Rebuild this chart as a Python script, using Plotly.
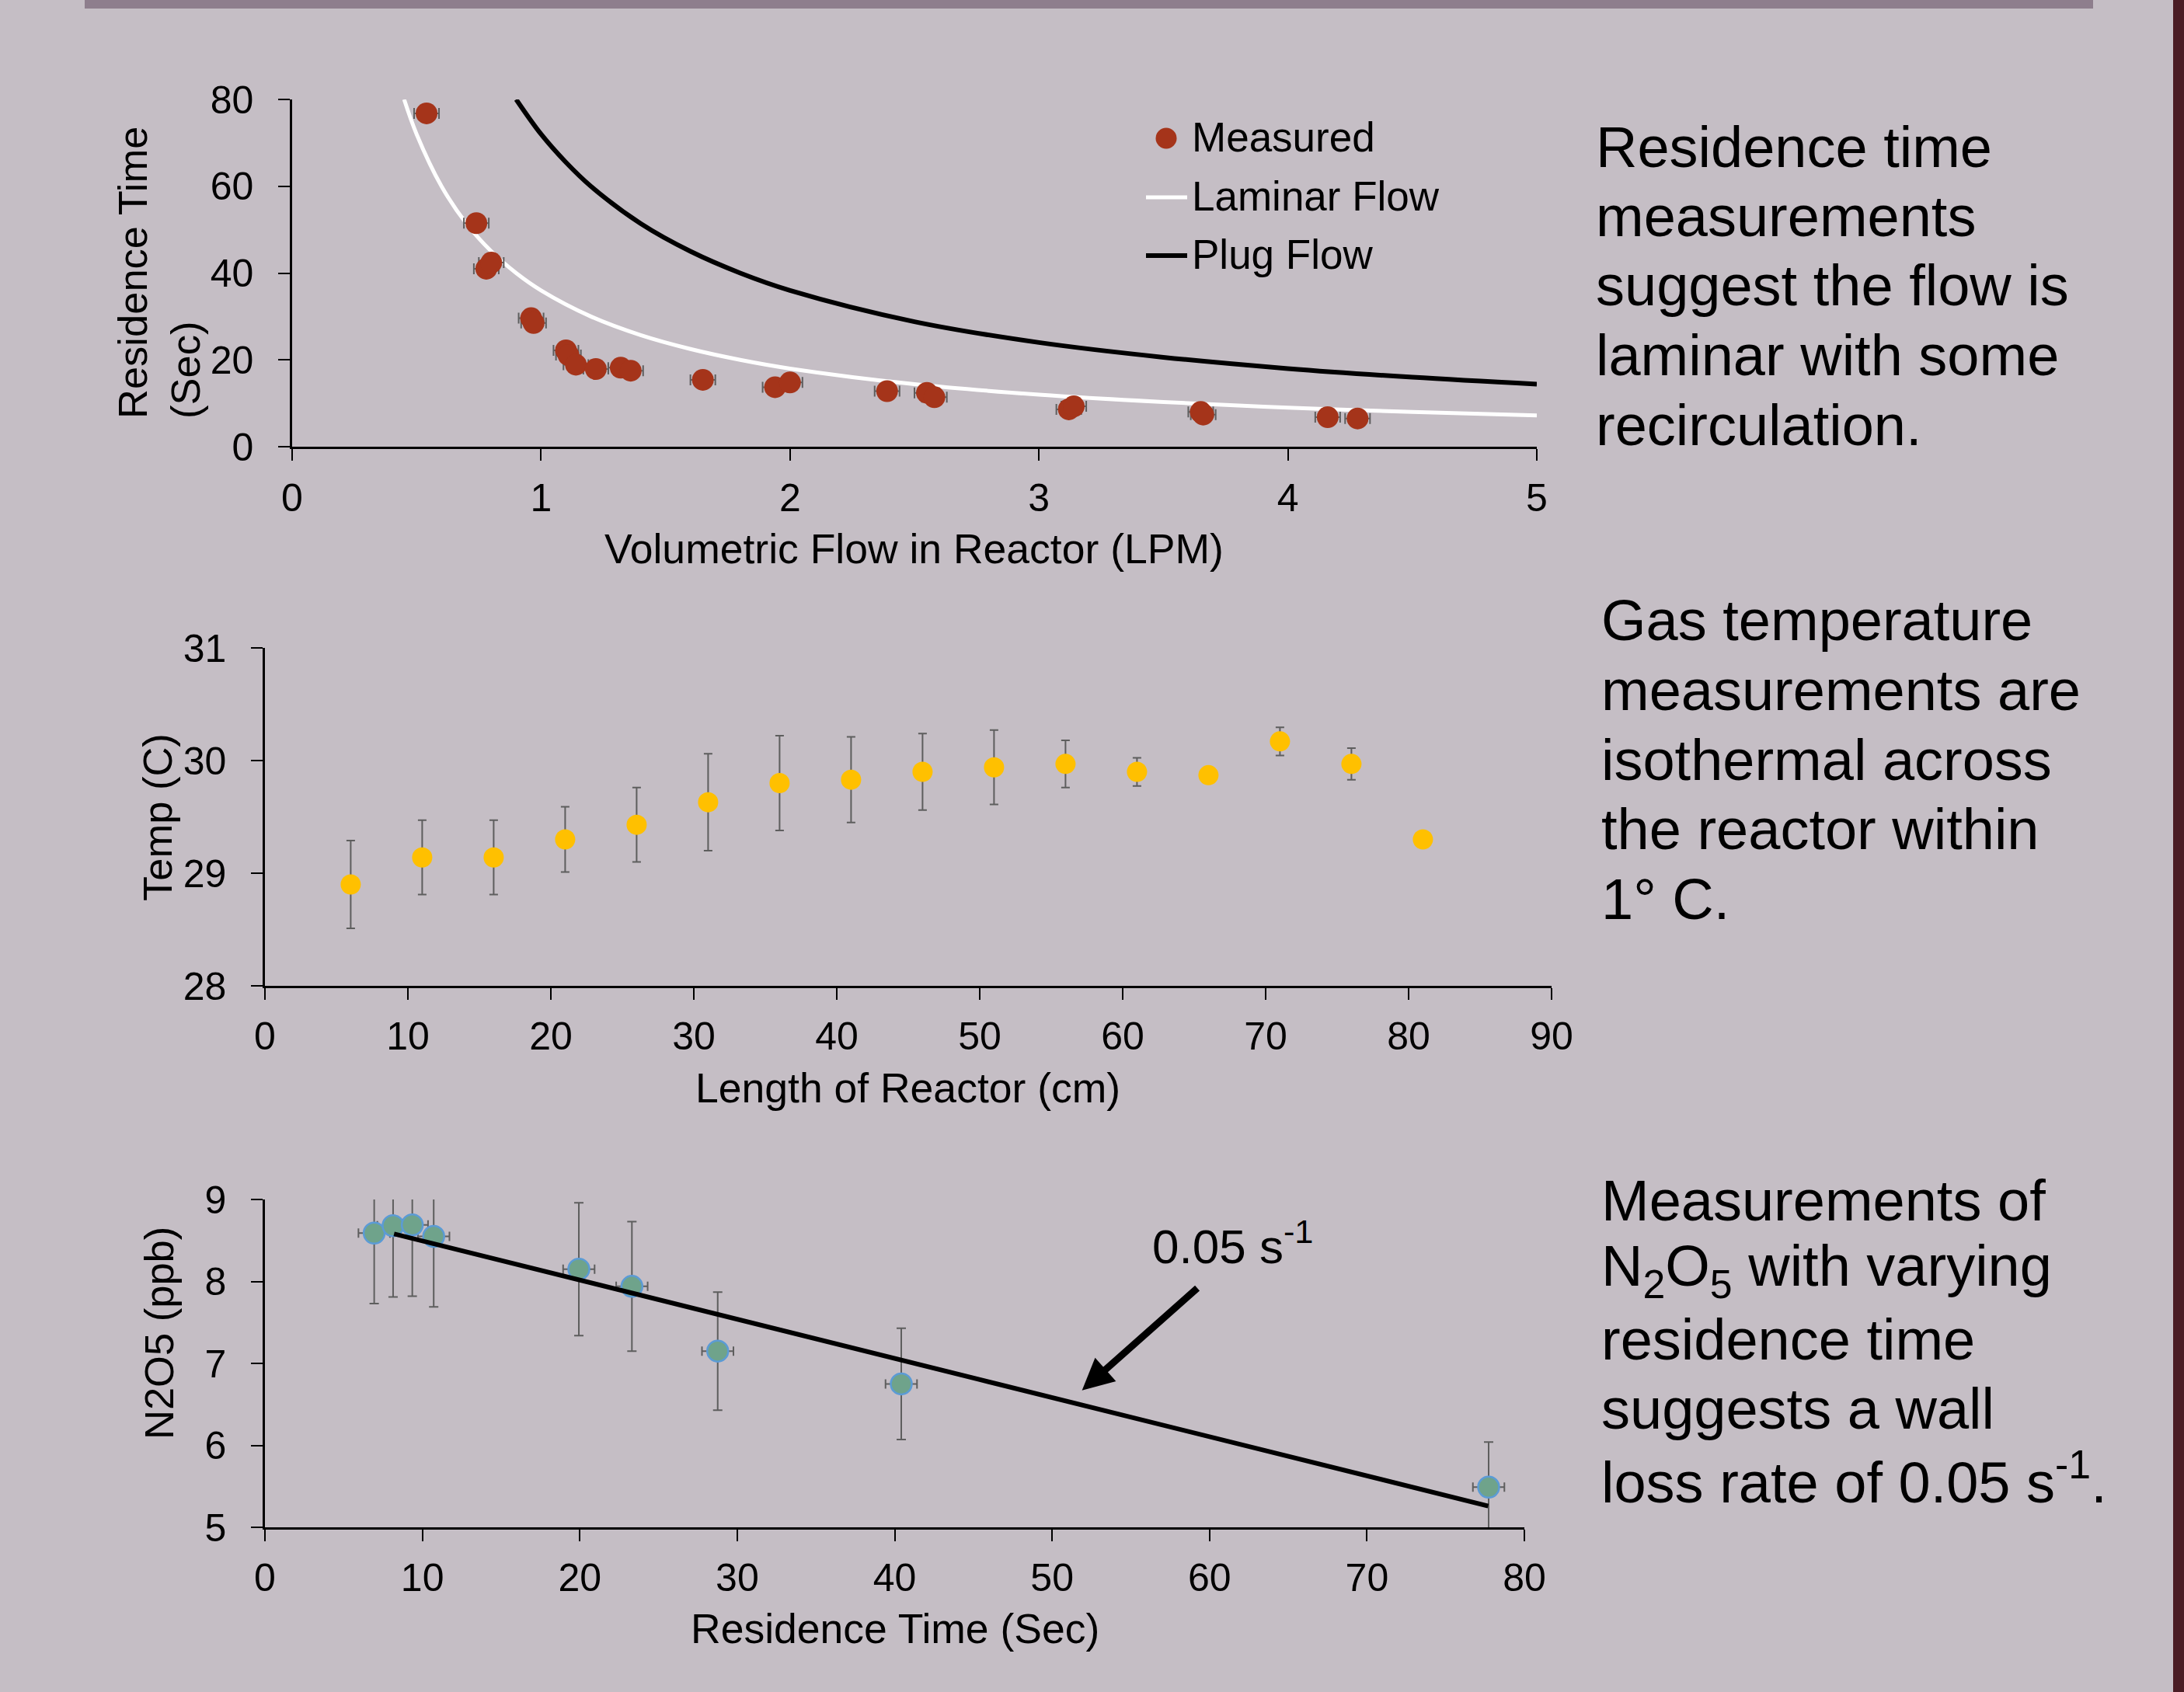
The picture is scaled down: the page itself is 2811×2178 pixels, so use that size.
import plotly.graph_objects as go

# ---------------- data ----------------
# Panel 1: residence time vs volumetric flow
flow_lpm = [0.54, 0.74, 0.78, 0.80, 0.96, 0.97, 1.10, 1.11, 1.14, 1.22, 1.32, 1.36,
            1.65, 1.94, 2.00, 2.39, 2.55, 2.58, 3.12, 3.14, 3.65, 3.66, 4.16, 4.28]
res_time_meas = [76.8, 51.5, 41.0, 42.4, 29.6, 28.5, 22.2, 21.1, 18.9, 17.9, 18.2, 17.5,
                 15.4, 13.7, 14.8, 12.8, 12.4, 11.4, 8.6, 9.3, 8.0, 7.4, 6.8, 6.5]
flow_err = [0.05, 0.05, 0.05, 0.05, 0.05, 0.05, 0.05, 0.05, 0.05, 0.05, 0.05, 0.05,
            0.05, 0.05, 0.05, 0.05, 0.05, 0.05, 0.05, 0.05, 0.05, 0.05, 0.05, 0.05]
laminar_x = [0.45, 0.5, 0.6, 0.7, 0.8, 0.9, 1.0, 1.2, 1.4, 1.6, 1.8, 2.0, 2.5, 3.0, 3.5, 4.0, 4.5, 5.0]
laminar_y = [80.0, 72.0, 60.0, 51.4, 45.0, 40.0, 36.0, 30.0, 25.7, 22.5, 20.0, 18.0, 14.4, 12.0, 10.3, 9.0, 8.0, 7.2]
plug_x = [0.9, 1.0, 1.1, 1.2, 1.4, 1.6, 1.8, 2.0, 2.5, 3.0, 3.5, 4.0, 4.5, 5.0]
plug_y = [80.0, 72.0, 65.5, 60.0, 51.4, 45.0, 40.0, 36.0, 28.8, 24.0, 20.6, 18.0, 16.0, 14.4]

# Panel 2: gas temperature along reactor
length_cm = [6, 11, 16, 21, 26, 31, 36, 41, 46, 51, 56, 61, 66, 71, 76, 81]
temp_c = [28.90, 29.14, 29.14, 29.30, 29.43, 29.63, 29.80, 29.83, 29.90, 29.94, 29.97,
          29.90, 29.87, 30.17, 29.97, 29.30]
temp_err = [0.39, 0.33, 0.33, 0.29, 0.33, 0.43, 0.42, 0.38, 0.34, 0.33, 0.21,
            0.125, 0.0, 0.125, 0.14, 0.0]

# Panel 3: N2O5 vs residence time
res_sec = [6.94, 8.14, 9.36, 10.72, 19.94, 23.31, 28.76, 40.42, 77.73]
res_sec_err = [1.0, 1.0, 1.0, 1.0, 1.0, 1.0, 1.0, 1.0, 1.0]
n2o5_ppb = [8.59, 8.68, 8.69, 8.55, 8.15, 7.94, 7.15, 6.75, 5.49]
n2o5_err = [0.86, 0.87, 0.87, 0.86, 0.81, 0.79, 0.72, 0.68, 0.55]
fit_x = [8.2, 77.7]
fit_y = [8.58, 5.26]
arrow_tail = (59.3, 7.93)
arrow_tip = (51.9, 6.67)
rate_label = "0.05 s<sup>-1</sup>"
rate_label_pos = (61.5, 8.47)

# ---------------- layout helpers ----------------
W, H = 2811, 2178
BG = "#C5BEC5"
FONT = "Liberation Sans, Arial, sans-serif"
ERR = "#5E5E5E"


def fx(p):
    return p / W


def fy(p):
    return 1 - p / H


fig = go.Figure()

# Panel 1 traces
fig.add_trace(go.Scatter(x=laminar_x, y=laminar_y, mode="lines", line=dict(color="white", width=5, shape="spline"),
                         xaxis="x", yaxis="y", showlegend=False, name="Laminar Flow"))
fig.add_trace(go.Scatter(x=plug_x, y=plug_y, mode="lines", line=dict(color="black", width=6, shape="spline"),
                         xaxis="x", yaxis="y", showlegend=False, name="Plug Flow"))
fig.add_trace(go.Scatter(x=flow_lpm, y=res_time_meas, mode="markers",
                         marker=dict(color="#A5341A", size=28),
                         error_x=dict(type="data", array=flow_err, color=ERR, thickness=2, width=7),
                         xaxis="x", yaxis="y", showlegend=False, name="Measured"))

# Panel 2
fig.add_trace(go.Scatter(x=length_cm, y=temp_c, mode="markers",
                         marker=dict(color="#FFC000", size=26),
                         error_y=dict(type="data", array=temp_err, color=ERR, thickness=2, width=5.5),
                         xaxis="x2", yaxis="y2", showlegend=False))

# Panel 3
fig.add_trace(go.Scatter(x=res_sec, y=n2o5_ppb, mode="markers",
                         marker=dict(color="#6FA38B", size=27, line=dict(color="#5B9BD5", width=2.5)),
                         error_y=dict(type="data", array=n2o5_err, color=ERR, thickness=2, width=6),
                         error_x=dict(type="data", array=res_sec_err, color=ERR, thickness=2, width=6),
                         xaxis="x3", yaxis="y3", showlegend=False))
fig.add_trace(go.Scatter(x=fit_x, y=fit_y, mode="lines", line=dict(color="black", width=6),
                         xaxis="x3", yaxis="y3", showlegend=False))

tickfont = dict(family=FONT, size=50, color="black")
axcommon = dict(showline=True, linecolor="black", linewidth=2.5, ticks="outside", ticklen=15,
                tickwidth=2, tickcolor="black", showgrid=False, zeroline=False, tickfont=tickfont,
                automargin=False, fixedrange=True)

fig.update_layout(
    width=W, height=H, template="none",
    margin=dict(l=0, r=0, t=0, b=0, pad=0),
    paper_bgcolor=BG, plot_bgcolor=BG,
    showlegend=False,
    xaxis=dict(domain=[fx(376), fx(1978)], range=[0, 5], dtick=1, anchor="y", ticklabelstandoff=5, **axcommon),
    yaxis=dict(domain=[fy(575), fy(128)], range=[0, 80], dtick=20, anchor="x", ticklabelstandoff=22, **axcommon),
    xaxis2=dict(domain=[fx(341), fx(1997)], range=[0, 90], dtick=10, anchor="y2", ticklabelstandoff=4, **axcommon),
    yaxis2=dict(domain=[fy(1269), fy(834)], range=[28, 31], dtick=1, anchor="x2", ticklabelstandoff=22, **axcommon),
    xaxis3=dict(domain=[fx(341), fx(1962)], range=[0, 80], dtick=10, anchor="y3", ticklabelstandoff=4, **axcommon),
    yaxis3=dict(domain=[fy(1966), fy(1544)], range=[5, 9], dtick=1, anchor="x3", ticklabelstandoff=22, **axcommon),
)

shapes = [
    # decorative top bar and right edge strip
    dict(type="rect", xref="paper", yref="paper", x0=fx(109), x1=fx(2694), y0=fy(11), y1=1,
         fillcolor="#8E7E8D", line=dict(width=0), layer="below"),
    dict(type="rect", xref="paper", yref="paper", x0=fx(2797), x1=1, y0=0, y1=1,
         fillcolor="#4A1C24", line=dict(width=0), layer="below"),
    # legend keys (panel 1)
    dict(type="circle", xref="paper", yref="paper", x0=fx(1487.5), x1=fx(1514.5), y0=fy(191.5), y1=fy(164.5),
         fillcolor="#A5341A", line=dict(width=0)),
    dict(type="line", xref="paper", yref="paper", x0=fx(1475), x1=fx(1528), y0=fy(254), y1=fy(254),
         line=dict(color="white", width=5)),
    dict(type="line", xref="paper", yref="paper", x0=fx(1475), x1=fx(1528), y0=fy(329), y1=fy(329),
         line=dict(color="black", width=6)),
]

titlefont = dict(family=FONT, size=53.5, color="black")
ytitlefont = dict(family=FONT, size=52.5, color="black")
legfont = dict(family=FONT, size=53, color="black")
bodyfont = dict(family=FONT, size=74, color="black")

ann = []


def add_text(text, x, y, font, xanchor="center", yanchor="middle", angle=0):
    ann.append(dict(text=text, x=fx(x), y=fy(y), xref="paper", yref="paper", showarrow=False,
                    font=font, xanchor=xanchor, yanchor=yanchor, textangle=angle, align="left"))


# axis titles
add_text("Volumetric Flow in Reactor (LPM)", 1176, 706, titlefont)
add_text("Residence Time<br>(Sec)", 204, 351, ytitlefont, angle=-90)
add_text("Length of Reactor (cm)", 1168, 1400, titlefont)
add_text("Temp (C)", 203, 1052, ytitlefont, angle=-90)
add_text("Residence Time (Sec)", 1152, 2096, titlefont)
add_text("N2O5 (ppb)", 204, 1716, ytitlefont, angle=-90)

# legend labels
add_text("Measured", 1532, 177, legfont, xanchor="left")
add_text("Laminar Flow", 1532, 253, legfont, xanchor="left")
add_text("Plug Flow", 1532, 327, legfont, xanchor="left")

# side commentary
block1 = ["Residence time", "measurements", "suggest the flow is", "laminar with some", "recirculation."]
block1_y = [189, 278.5, 368, 457.5, 547]
block2 = ["Gas temperature", "measurements are", "isothermal across", "the reactor within", "1\u00b0 C."]
block2_y = [799, 888.5, 978, 1067.5, 1157]
block3 = ["Measurements of", "N<sub>2</sub>O<sub>5</sub> with varying", "residence time",
          "suggests a wall", "loss rate of 0.05 s<sup>-1</sup>."]
block3_y = [1545, 1634.5, 1724, 1813.5, 1903]
for t, y in zip(block1, block1_y):
    add_text(t, 2052, y, bodyfont, xanchor="left")
for t, y in zip(block2, block2_y):
    add_text(t, 2059, y, bodyfont, xanchor="left")
for t, y in zip(block3, block3_y):
    add_text(t, 2059, y, bodyfont, xanchor="left")

# rate label and arrow on panel 3
ann.append(dict(text=rate_label, x=rate_label_pos[0], y=rate_label_pos[1], xref="x3", yref="y3",
                showarrow=False, font=dict(family=FONT, size=62, color="black"),
                xanchor="center", yanchor="middle"))
ann.append(dict(text="", x=arrow_tip[0], y=arrow_tip[1], xref="x3", yref="y3",
                ax=arrow_tail[0], ay=arrow_tail[1], axref="x3", ayref="y3",
                showarrow=True, arrowhead=2, arrowsize=0.9, arrowwidth=9, arrowcolor="black", standoff=0))

fig.update_layout(shapes=shapes, annotations=ann)

fig.write_html("out.html", config={"displayModeBar": False},
               post_script="document.body.style.margin='0';document.body.style.overflow='hidden';")
